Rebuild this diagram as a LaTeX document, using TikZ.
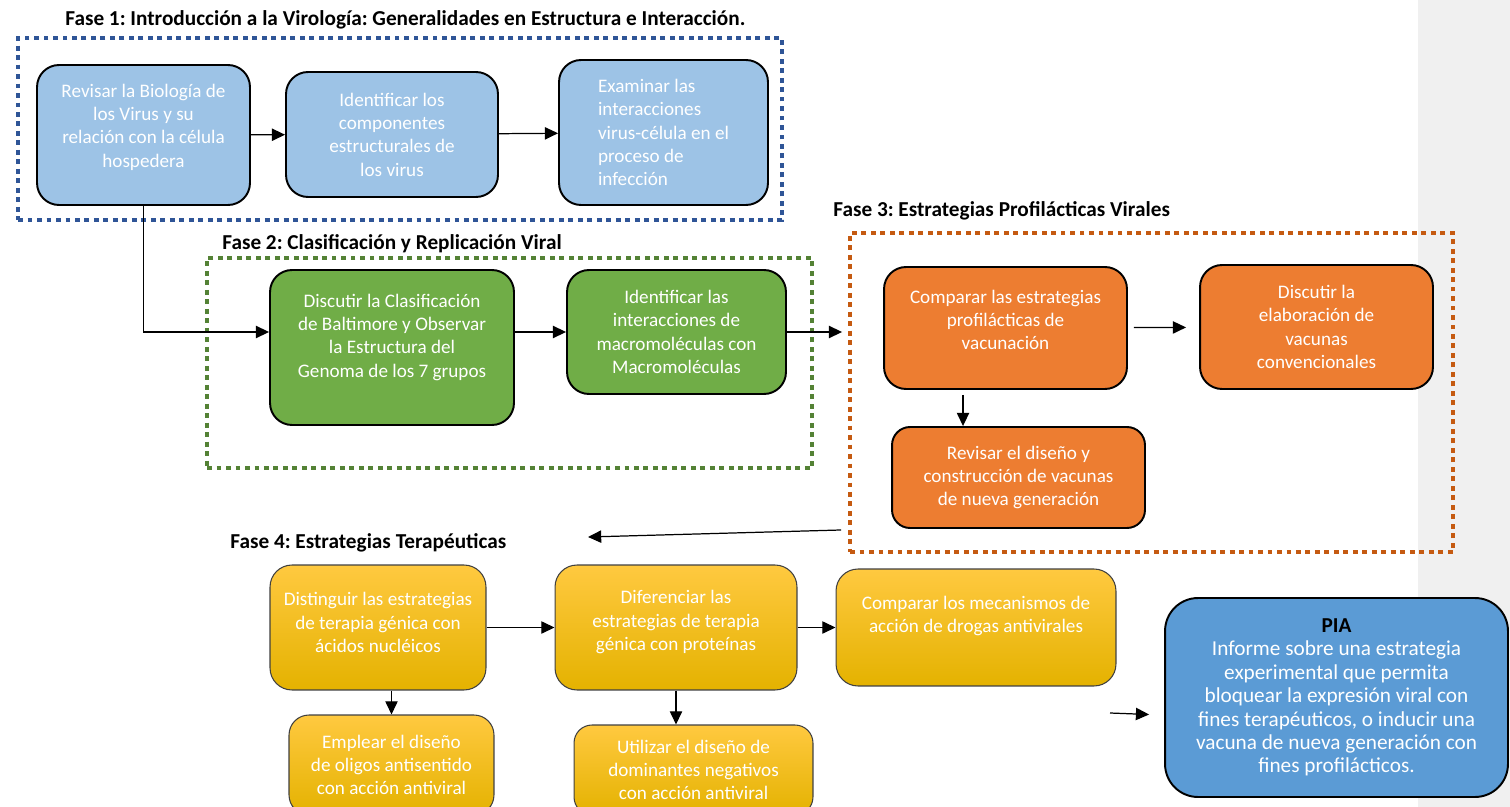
\documentclass[tikz,border=0pt]{standalone}
\usepackage{fontspec}
\setmainfont{Carlito}
\usepackage{xcolor}
\usetikzlibrary{arrows.meta,calc,positioning,shapes}
\frenchspacing
\definecolor{azulmarco}{RGB}{47,85,151}
\definecolor{verdemarco}{RGB}{84,130,53}
\definecolor{naranjamarco}{RGB}{197,90,17}
\definecolor{azulclaro}{RGB}{157,195,230}
\definecolor{verdecaja}{RGB}{112,173,71}
\definecolor{naranjacaja}{RGB}{237,125,49}
\definecolor{amarillosup}{RGB}{255,201,64}
\definecolor{amarillomed}{RGB}{255,192,0}
\definecolor{amarilloinf}{RGB}{228,178,0}
\definecolor{azulpia}{RGB}{91,155,213}
\definecolor{fondogris}{RGB}{240,240,240}
\tikzset{%
	marco/.style    = {draw, rectangle, line width=2.3pt, dash pattern=on 2.8pt off 2.6pt},
	caja/.style     = {draw, rectangle, rounded corners=0.44cm, line width=1.1pt, text=white, align=center, inner sep=0pt, font=\fontsize{10.9}{13.3}\selectfont},
	azul/.style     = {caja, fill=azulclaro},
	verde/.style    = {caja, fill=verdecaja},
	naranja/.style  = {caja, fill=naranjacaja},
	amarilla/.style = {caja, draw=black!75, line width=0.6pt, top color=amarillosup, middle color=amarillomed, bottom color=amarilloinf},
	titulo/.style   = {anchor=west, inner sep=0pt, font=\fontsize{12.1}{14}\selectfont\bfseries},
	flecha/.style   = {-{Triangle[length=7.5pt,width=7pt]}, line width=0.7pt},
}
\begin{document}
\begin{tikzpicture}[x=0.02cm,y=-0.02cm]
	\useasboundingbox (0,0) rectangle (1510,807);
	\clip (0,0) rectangle (1510,807);
	\fill[fondogris] (1418,0) rectangle (1510,807);  % franja lateral
	% Fase 1
	\node[titulo] (tfase1) at (65,20) {Fase 1: Introducción a la Virología: Generalidades en Estructura e Interacción.};
	\node[marco, draw=azulmarco, minimum width=15.28cm, minimum height=3.64cm] (fase1) at (400,129) {};
	\node[azul, minimum width=4.26cm, minimum height=2.80cm] (revisar) at (143.5,135) {Revisar la Biología de\\los Virus y su\\relación con la célula\\hospedera\\[-2.4pt]\mbox{}};
	\node[azul, minimum width=4.24cm, minimum height=2.50cm] (componentes) at (392,134.5) {Identificar los\\componentes\\estructurales de\\los virus};
	\node[azul, align=left, minimum width=4.18cm, minimum height=2.90cm] (examinar) at (663.5,132.5) {Examinar las\\interacciones\\virus-célula en el\\proceso de\\infección};
	\draw[flecha] (revisar) -- (componentes);
	\draw[flecha] (componentes) -- (examinar);
	% Fase 2
	\node[titulo] (tfase2) at (222,244) {Fase 2: Clasificación y Replicación Viral};
	\node[marco, draw=verdemarco, minimum width=12.10cm, minimum height=4.20cm] (fase2) at (509.5,363) {};
	\node[verde, minimum width=4.88cm, minimum height=3.10cm] (clasificacion) at (392,347.5) {Discutir la Clasificación\\de Baltimore y Observar\\la Estructura del\\Genoma de los 7 grupos\\[0.4pt]\mbox{}};
	\node[verde, minimum width=4.38cm, minimum height=2.48cm] (macro) at (676.5,332) {Identificar las\\interacciones de\\macromoléculas con\\Macromoléculas};
	\draw[flecha] (revisar.south) |- (clasificacion.west |- macro.west);
	\draw[flecha] (clasificacion.east |- macro.west) -- (macro.west);
	% Fase 3
	\node[titulo] (tfase3) at (833,211) {Fase 3: Estrategias Profilácticas Virales};
	\node[marco, draw=naranjamarco, minimum width=12.06cm, minimum height=6.38cm] (fase3) at (1151.5,392.5) {};
	\node[naranja, minimum width=4.86cm, minimum height=2.44cm] (comparar) at (1005.5,328) {Comparar las estrategias\\profilácticas de\\vacunación\\[-4.1pt]\mbox{}};
	\node[naranja, minimum width=4.66cm, minimum height=2.48cm] (convencionales) at (1316.5,327) {Discutir la\\elaboración de\\vacunas\\convencionales};
	\node[naranja, rounded corners=0.36cm, minimum width=5.06cm, minimum height=2.02cm] (nuevagen) at (1018.5,477.5) {Revisar el diseño y\\construcción de vacunas\\de nueva generación};
	\draw[flecha, shorten >=0.12cm] (macro.east) -- (macro.east -| fase3.west);
	\draw[flecha, shorten <=0.12cm, shorten >=0.26cm] (comparar) -- (convencionales);
	\draw[flecha, shorten <=0.1cm] ([xshift=-0.85cm]comparar.south) -- ([xshift=-0.85cm]comparar.south |- nuevagen.north);
	\coordinate (haciafase4) at (588,537);
	\draw[flecha] ([shift={(-7,-24)}]fase3.south west) -- (haciafase4);
	% Fase 4
	\node[titulo] (tfase4) at (230,543) {Fase 4: Estrategias Terapéuticas};
	\node[amarilla, minimum width=4.32cm, minimum height=2.50cm] (acidos) at (378,627.5) {Distinguir las estrategias\\de terapia génica con\\ácidos nucléicos\\[-7.7pt]\mbox{}};
	\node[amarilla, minimum width=4.84cm, minimum height=2.50cm] (proteinas) at (676,627.5) {Diferenciar las\\estrategias de terapia\\génica con proteínas\\[-5.4pt]\mbox{}};
	\node[amarilla, minimum width=5.60cm, minimum height=2.34cm] (drogas) at (976,627.5) {Comparar los mecanismos de\\acción de drogas antivirales\\[1.4pt]\mbox{}};
	\node[amarilla, rounded corners=0.4cm, minimum width=4.10cm, minimum height=2.00cm] (oligos) at (391.5,765) {Emplear el diseño\\de oligos antisentido\\con acción antiviral};
	\node[amarilla, rounded corners=0.36cm, minimum width=4.78cm, minimum height=1.80cm] (dominantes) at (693.5,770) {Utilizar el diseño de\\dominantes negativos\\con acción antiviral};
	\draw[flecha] (acidos) -- (proteinas);
	\draw[flecha] (proteinas) -- (drogas);
	\draw[flecha] (acidos.south -| oligos.north) -- (oligos.north);
	\draw[flecha] (proteinas.south) -- (proteinas.south |- dominantes.north);
	% PIA
	\node[caja, fill=azulpia, rounded corners=0.66cm, minimum width=6.86cm, minimum height=3.98cm, font=\fontsize{12.1}{13.3}\selectfont] (pia) at (1336.5,697.5) {{\color{black}\bfseries PIA}\\Informe sobre una estrategia\\experimental que permita\\bloquear la expresión viral con\\fines terapéuticos, o inducir una\\vacuna de nueva generación con\\fines profilácticos.};
	\coordinate (haciapia) at (1110,713);
	\draw[flecha] (haciapia) -- ([shift={(-15,17)}]pia.west);
\end{tikzpicture}
\end{document}
